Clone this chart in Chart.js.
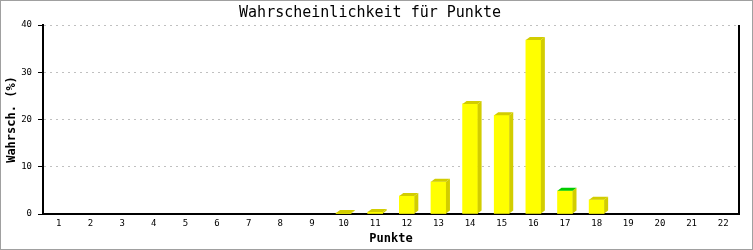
<!DOCTYPE html>
<html>
<head>
<meta charset="utf-8">
<script src="https://cdn.jsdelivr.net/npm/chart.js@4"></script>
<style>
  body { margin: 0; background: #fff; }
  #wrap { width: 753px; height: 250px; }
</style>
</head>
<body>
<div id="wrap"><canvas id="chart" width="753" height="250"></canvas></div>
<script>
// Data
const punkte = ['1','2','3','4','5','6','7','8','9','10','11','12','13','14','15','16','17','18','19','20','21','22'];
const wahrsch = [0, 0, 0, 0, 0, 0, 0, 0, 0, 0.2, 0.4, 3.8, 6.8, 23.3, 20.9, 36.8, 4.9, 3.0, 0, 0, 0, 0];
const yTicks = [0, 10, 20, 30, 40];
const markiert = '17';

const MONO = "'DejaVu Sans Mono', 'Liberation Mono', monospace";

// frame + 3d faces + right border
const extras = {
    id: 'extras',
    beforeDraw(chart) {
        const c = chart.ctx;
        c.save();
        c.fillStyle = '#fff';
        c.fillRect(0, 0, chart.width, chart.height);
        c.restore();
    },
    afterDatasetsDraw(chart) {
        const c = chart.ctx;
        const meta = chart.getDatasetMeta(0);
        const dx = 4, dy = 3;
        c.save();
        meta.data.forEach((el, i) => {
            if (!wahrsch[i]) return;
            const p = el.getProps(['x', 'y', 'base', 'width'], true);
            const x0 = p.x - p.width / 2, x1 = p.x + p.width / 2;
            // side
            c.fillStyle = '#d2cd00';
            c.beginPath();
            c.moveTo(x1, p.y);
            c.lineTo(x1 + dx, p.y - dy);
            c.lineTo(x1 + dx, p.base - dy);
            c.lineTo(x1, p.base);
            c.closePath();
            c.fill();
            // top
            c.fillStyle = punkte[i] === markiert ? '#00cc00' : '#d2cd00';
            c.beginPath();
            c.moveTo(x0, p.y);
            c.lineTo(x0 + dx, p.y - dy);
            c.lineTo(x1 + dx, p.y - dy);
            c.lineTo(x1, p.y);
            c.closePath();
            c.fill();
        });
        c.restore();
    },
    afterDraw(chart) {
        const c = chart.ctx;
        const a = chart.chartArea;
        c.save();
        c.strokeStyle = '#000';
        c.lineWidth = 2;
        c.beginPath();
        c.moveTo(a.right, a.top);
        c.lineTo(a.right, a.bottom + 1);
        c.stroke();
        c.strokeStyle = '#a0a0a0';
        c.lineWidth = 1;
        c.strokeRect(0.5, 0.5, chart.width - 1, chart.height - 1);
        c.restore();
    }
};

new Chart(document.getElementById('chart'), {
    type: 'bar',
    data: {
        labels: punkte,
        datasets: [{
            data: wahrsch.map(v => v || null),
            backgroundColor: '#ffff00',
            borderWidth: 0,
            barThickness: 15
        }]
    },
    options: {
        responsive: false,
        animation: false,
        layout: { padding: { left: 1, right: 14, top: 0, bottom: 1 } },
        plugins: {
            legend: { display: false },
            tooltip: { enabled: false },
            title: {
                display: true,
                text: 'Wahrscheinlichkeit für Punkte',
                color: '#000',
                font: { family: MONO, size: 15, weight: 'normal', lineHeight: 1.2 },
                padding: { top: 4, bottom: 3 }
            }
        },
        scales: {
            x: {
                afterFit(s) { s.height = 35; },
                grid: { display: false, drawTicks: false, tickLength: 0 },
                border: { color: '#000', width: 2 },
                ticks: { color: '#000', font: { family: MONO, size: 9 }, padding: 4, maxRotation: 0, autoSkip: false },
                title: {
                    display: true,
                    text: 'Punkte',
                    color: '#000',
                    font: { family: MONO, size: 12, weight: 'bold', lineHeight: 1.2 },
                    padding: { top: 0, bottom: 3 }
                }
            },
            y: {
                min: 0,
                max: 40,
                afterFit(s) { s.width = 42; },
                afterBuildTicks(s) { s.ticks = yTicks.map(v => ({ value: v })); },
                border: { color: '#000', width: 2, dash: [2, 4] },
                grid: {
                    color: '#c0c0c0',
                    tickColor: '#000',
                    tickBorderDash: [],
                    tickLength: 5,
                    lineWidth: 1
                },
                ticks: { color: '#000', font: { family: MONO, size: 9 }, padding: 6 },
                title: {
                    display: true,
                    text: 'Wahrsch. (%)',
                    color: '#000',
                    font: { family: MONO, size: 12, weight: 'bold', lineHeight: 1.2 },
                    padding: { top: 4, bottom: 0 }
                }
            }
        }
    },
    plugins: [extras]
});
</script>
</body>
</html>
